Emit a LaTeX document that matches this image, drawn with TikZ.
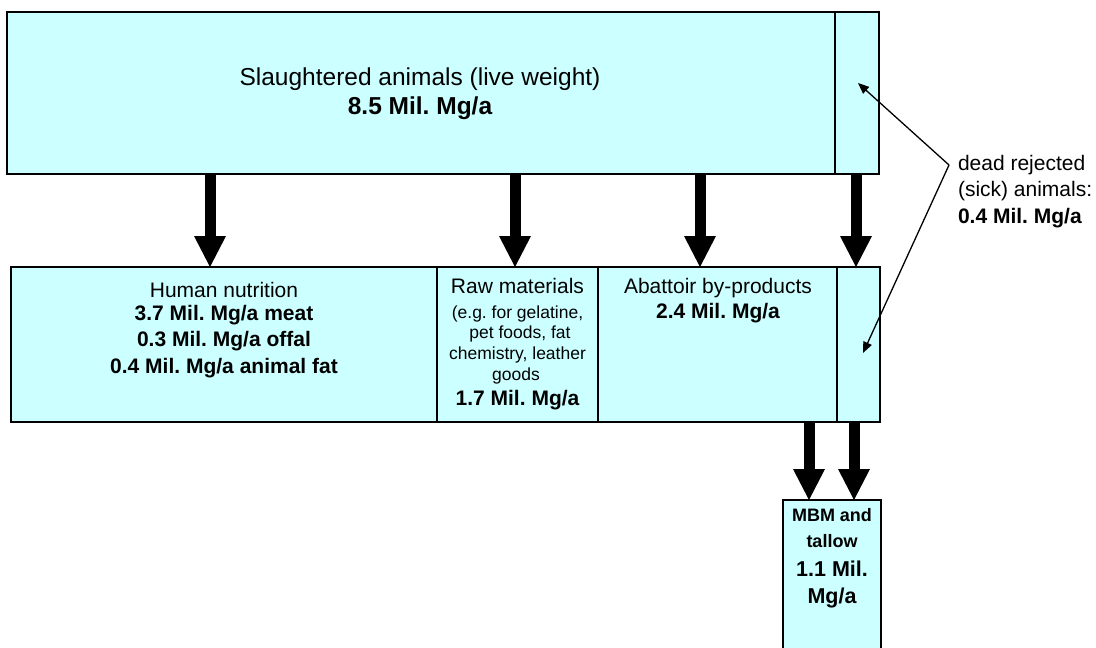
\documentclass[tikz,border=0pt]{standalone}
\usepackage{fontspec}
\setmainfont{Liberation Sans}
\usetikzlibrary{arrows.meta}
\definecolor{boxfill}{HTML}{CCFFFF}
\frenchspacing
\tikzset{
  cell/.style={draw=black, line width=1.3pt, fill=boxfill, inner sep=0pt, outer sep=0pt, anchor=north west},
  txt/.style={inner sep=0pt, outer sep=0pt, anchor=base},
  big/.style={font=\fontsize{24.5}{29}\selectfont},
  bigb/.style={font=\fontsize{24.5}{29}\selectfont\bfseries},
  reg/.style={font=\fontsize{21}{25}\selectfont},
  bld/.style={font=\fontsize{21}{25}\selectfont\bfseries},
  sml/.style={font=\fontsize{17.5}{21}\selectfont},
  mbmf/.style={font=\fontsize{18}{22}\selectfont\bfseries},
  mbmv/.style={font=\fontsize{21.5}{26}\selectfont\bfseries},
  flow/.style={line width=11pt, -{Triangle[length=31pt,width=32pt,line width=0pt]}},
  ptr/.style={line width=1.3pt, -{Triangle[length=11pt,width=9pt]}}
}
\begin{document}
\frenchspacing
\begin{tikzpicture}[x=1pt,y=-1pt]
\useasboundingbox (0,0) rectangle (1096,648);
\clip (0,0) rectangle (1096,648);
% boxes
\node[cell, minimum width=828pt, minimum height=162pt] (top) at (7,12) {};
\node[cell, minimum width=44pt, minimum height=162pt] (topr) at (835,12) {};
\node[cell, minimum width=426pt, minimum height=155pt] (hn) at (11,267) {};
\node[cell, minimum width=161pt, minimum height=155pt] (raw) at (437,267) {};
\node[cell, minimum width=239pt, minimum height=155pt] (abp) at (598,267) {};
\node[cell, minimum width=43pt, minimum height=155pt] (abr) at (837,267) {};
\node[cell, minimum width=98pt, minimum height=165pt] (mbm) at (783,500) {};
% texts
\node[txt, big] (t1) at (420,85) {Slaughtered animals (live weight)};
\node[txt, bigb] (t2) at (420,114) {8.5 Mil. Mg/a};
\node[txt, reg] (h1) at (224,297) {Human nutrition};
\node[txt, bld] (h2) at (224,320) {3.7 Mil. Mg/a meat};
\node[txt, bld] (h3) at (224,346) {0.3 Mil. Mg/a offal};
\node[txt, bld] (h4) at (224,373) {0.4 Mil. Mg/a animal fat};
\node[txt, reg] (r1) at (517.5,293) {Raw materials};
\node[txt, sml] (r2) at (517.5,318) {(e.g. for gelatine,};
\node[txt, sml] (r3) at (520,338) {pet foods, fat};
\node[txt, sml] (r4) at (517.5,359) {chemistry, leather};
\node[txt, sml] (r5) at (516,380) {goods};
\node[txt, bld] (r6) at (517.5,405) {1.7 Mil. Mg/a};
\node[txt, reg] (a1t) at (718,293) {Abattoir by-products};
\node[txt, bld] (a2t) at (718,318) {2.4 Mil. Mg/a};
\node[txt, mbmf] (m1) at (832,521) {MBM and};
\node[txt, mbmf] (m2) at (832,547) {tallow};
\node[txt, mbmv] (m3) at (832,576) {1.1 Mil.};
\node[txt, mbmv] (m4) at (832,603) {Mg/a};
\node[txt, reg, anchor=base west] (d1) at (958,170) {dead rejected};
\node[txt, reg, anchor=base west] (d2) at (958,196) {(sick) animals:};
\node[txt, bld, anchor=base west] (d3) at (958,223) {0.4 Mil. Mg/a};
% arrow positions
\coordinate (x1) at (210,0);
\coordinate (x2) at (515,0);
\coordinate (x3) at (700,0);
\coordinate (x4) at (856,0);
\coordinate (y1) at (809,0);
\coordinate (y2) at (854,0);
\draw[flow] (top.south -| x1) -- (hn.north -| x1);
\draw[flow] (top.south -| x2) -- (raw.north -| x2);
\draw[flow] (top.south -| x3) -- (abp.north -| x3);
\draw[flow] (topr.south -| x4) -- (abr.north -| x4);
\draw[flow] (abp.south -| y1) -- (mbm.north -| y1);
\draw[flow] (abr.south -| y2) -- (mbm.north -| y2);
% pointers
\coordinate (J) at (949,165);
\coordinate (p1) at (858,83);
\coordinate (p2) at (863,353);
\draw[ptr] (J) -- (p1);
\draw[ptr] (J) -- (p2);
\end{tikzpicture}
\end{document}
